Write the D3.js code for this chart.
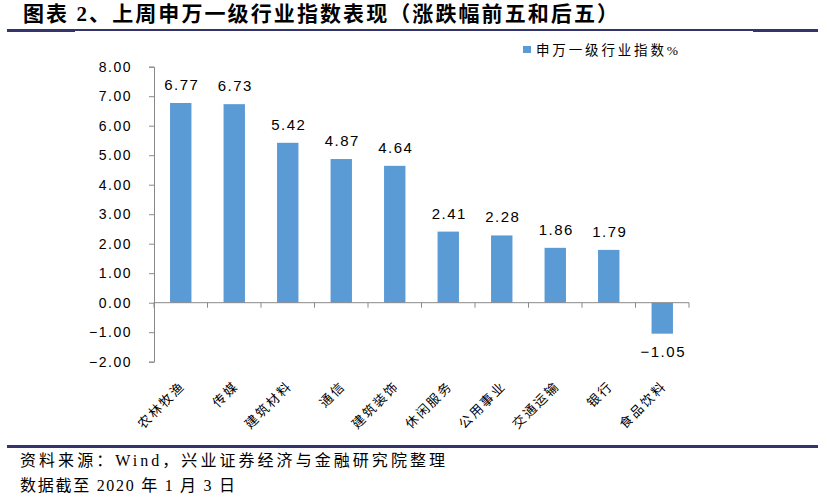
<!DOCTYPE html>
<html>
<head>
<meta charset="utf-8">
<script src="https://cdn.jsdelivr.net/npm/d3@7"></script>
<style>
  body { margin: 0; background: #fff; }
  svg { display: block; }
</style>
</head>
<body>
<svg id="chart" width="827" height="500"></svg>
<script>
// data
var categories = ["农林牧渔", "传媒", "建筑材料", "通信", "建筑装饰", "休闲服务", "公用事业", "交通运输", "银行", "食品饮料"];
var values = [6.77, 6.73, 5.42, 4.87, 4.64, 2.41, 2.28, 1.86, 1.79, -1.05];
var yTicks = [-2, -1, 0, 1, 2, 3, 4, 5, 6, 7, 8];
var seriesName = "申万一级行业指数%";
var titleText = "图表 2、上周申万一级行业指数表现（涨跌幅前五和后五）";
var sourceLines = ["资料来源：Wind，兴业证券经济与金融研究院整理", "数据截至 2020 年 1 月 3 日"];
var sourceWidths = [425, 215];

var svg = d3.select("#chart");
var barColor = "#5b9bd5";
var axisColor = "#898989";
var navy = "#34346c";
var cjk = "'Liberation Serif', 'Noto Sans CJK SC', sans-serif";
var num = "'Liberation Sans', Arial, sans-serif";

var plot = { left: 154, right: 689, top: 66.7, bottom: 361.7 };

// header
svg.append("text")
    .attr("x", 23).attr("y", 21)
    .attr("textLength", 595).attr("lengthAdjust", "spacing")
    .style("font-family", cjk).style("font-weight", "bold").style("font-size", "21px")
    .attr("fill", "#000")
    .text(titleText);

// rule under title (thinner where the chart picture overlaps it)
svg.append("rect").attr("x", 7).attr("y", 29).attr("width", 811).attr("height", 2).attr("fill", navy);
svg.append("rect").attr("x", 7).attr("y", 29).attr("width", 68).attr("height", 3).attr("fill", navy);
svg.append("rect").attr("x", 753).attr("y", 29).attr("width", 65).attr("height", 3).attr("fill", navy);

// scales
var y = d3.scaleLinear().domain([-2, 8]).range([plot.bottom, plot.top]);
var x = d3.scaleBand().domain(categories).range([plot.left, plot.right])
    .paddingInner(0.6).paddingOuter(0.3);
var xCell = d3.scaleBand().domain(categories).range([plot.left, plot.right]);

// y axis
var yAxis = svg.append("g")
    .attr("transform", "translate(" + plot.left + ",0)")
    .call(d3.axisLeft(y).tickValues(yTicks).tickFormat(d3.format(".2f")).tickSize(5).tickPadding(17));
yAxis.select(".domain").attr("stroke", axisColor);
yAxis.selectAll(".tick line").attr("stroke", axisColor);
yAxis.selectAll(".tick text")
    .style("font-family", num).style("font-size", "14px").style("letter-spacing", "1.5px")
    .attr("fill", "#000");

// bars
var data = categories.map(function (c, i) { return { name: c, value: values[i] }; });
svg.append("g").selectAll("rect")
    .data(data).join("rect")
    .attr("x", function (d) { return x(d.name); })
    .attr("width", x.bandwidth())
    .attr("y", function (d) { return y(Math.max(0, d.value)); })
    .attr("height", function (d) { return Math.abs(y(d.value) - y(0)); })
    .attr("fill", barColor);

// zero line with category ticks
var zero = svg.append("g").attr("transform", "translate(0," + y(0) + ")");
zero.append("line").attr("x1", plot.left).attr("x2", plot.right)
    .attr("stroke", axisColor);
var bounds = categories.map(function (c) { return xCell(c); }).concat([plot.right]);
zero.selectAll(".ct").data(bounds).join("line")
    .attr("class", "ct")
    .attr("x1", function (d) { return d; }).attr("x2", function (d) { return d; })
    .attr("y1", 0).attr("y2", 5)
    .attr("stroke", axisColor);

// value labels
svg.append("g").selectAll("text")
    .data(data).join("text")
    .attr("x", function (d) { return x(d.name) + x.bandwidth() / 2 + 1; })
    .attr("y", function (d) { return d.value >= 0 ? y(d.value) - 13 : y(d.value) + 23; })
    .attr("text-anchor", "middle")
    .style("font-family", num).style("font-size", "15px").style("letter-spacing", "1.5px")
    .attr("fill", "#000")
    .text(function (d) { return d3.format(".2f")(d.value); });

// category labels, rotated
svg.append("g").selectAll("text")
    .data(categories).join("text")
    .attr("transform", function (c) {
        return "translate(" + (x(c) + x.bandwidth() / 2 + 5) + ",387) rotate(-45)";
    })
    .attr("text-anchor", "end")
    .style("font-family", cjk).style("font-size", "13px").style("letter-spacing", "2px")
    .attr("fill", "#000")
    .text(function (c) { return c; });

// legend
svg.append("rect").attr("x", 523).attr("y", 46).attr("width", 8).attr("height", 7).attr("fill", barColor);
svg.append("text")
    .attr("x", 536).attr("y", 55)
    .attr("textLength", 142).attr("lengthAdjust", "spacing")
    .style("font-family", cjk).style("font-size", "13.5px")
    .attr("fill", "#000")
    .text(seriesName);

// footer
svg.append("rect").attr("x", 7).attr("y", 445).attr("width", 811).attr("height", 3).attr("fill", navy);
svg.selectAll(".src").data(sourceLines).join("text")
    .attr("class", "src")
    .attr("x", 20)
    .attr("y", function (d, i) { return 466 + i * 25; })
    .attr("textLength", function (d, i) { return sourceWidths[i]; })
    .attr("lengthAdjust", "spacing")
    .style("font-family", cjk).style("font-size", "16px")
    .attr("fill", "#000")
    .text(function (d) { return d; });
</script>
</body>
</html>
